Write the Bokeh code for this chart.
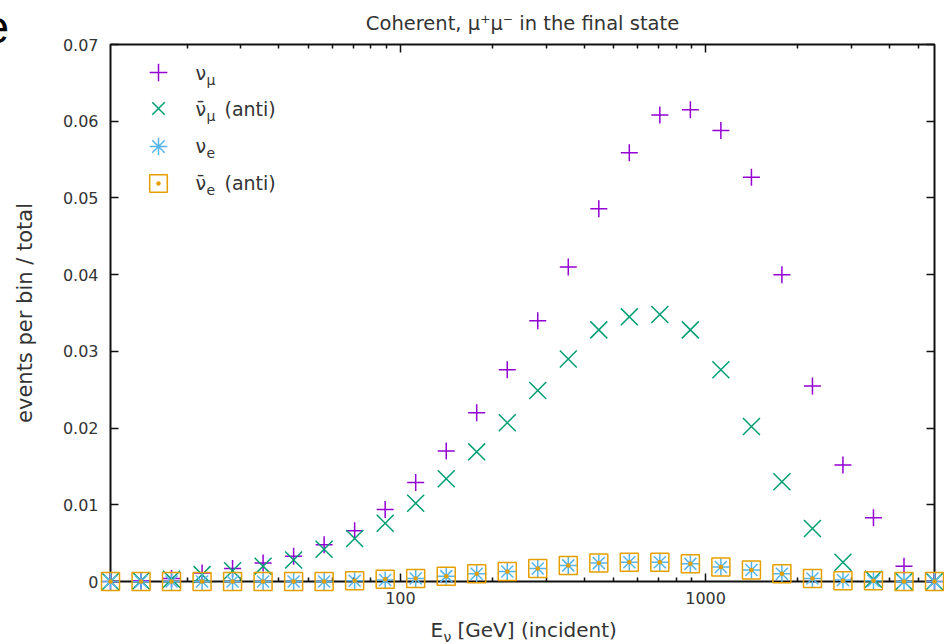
from bokeh.plotting import figure
from bokeh.models import (FixedTicker, LogAxis, LinearAxis, CustomJSTickFormatter,
                          Label, Legend, LegendItem, Range1d)
from bokeh.core.properties import value
from bokeh.embed import file_html
from bokeh.resources import INLINE

# ---------------- data ----------------
energy_gev = [11.22, 14.13, 17.78, 22.39, 28.18, 35.48, 44.67, 56.23, 70.79, 89.13,
              112.2, 141.3, 177.8, 223.9, 281.8, 354.8, 446.7, 562.3, 707.9, 891.3,
              1122.0, 1413.0, 1778.0, 2239.0, 2818.0, 3548.0, 4467.0, 5623.0]
nu_mu = [0.0000, 0.0001, 0.0004, 0.0011, 0.0017, 0.0024, 0.0033, 0.0048, 0.0066, 0.0094,
         0.0129, 0.0170, 0.0220, 0.0276, 0.0340, 0.0410, 0.0486, 0.0559, 0.0608, 0.0615,
         0.0588, 0.0527, 0.0400, 0.0255, 0.0152, 0.0083, 0.0020, 0.0000]
nu_mu_bar = [0.0000, 0.0001, 0.0003, 0.0009, 0.0014, 0.0020, 0.0028, 0.0042, 0.0056, 0.0076,
             0.0102, 0.0134, 0.0169, 0.0207, 0.0249, 0.0290, 0.0328, 0.0345, 0.0348, 0.0328,
             0.0276, 0.0202, 0.0130, 0.0069, 0.0025, 0.0003, 0.0000, 0.0000]
nu_e = [0.0000, 0.0000, 0.0000, 0.0000, 0.0000, 0.0000, 0.0000, 0.0000, 0.0001, 0.0002,
        0.0004, 0.0007, 0.0010, 0.0013, 0.0017, 0.0021, 0.0024, 0.0025, 0.0025, 0.0023,
        0.0019, 0.0015, 0.0010, 0.0004, 0.0002, 0.0001, 0.0000, 0.0000]
nu_e_bar = [0.0000, 0.0000, 0.0000, 0.0000, 0.0000, 0.0000, 0.0000, 0.0000, 0.0001, 0.0003,
            0.0004, 0.0007, 0.0010, 0.0013, 0.0017, 0.0021, 0.0024, 0.0025, 0.0025, 0.0023,
            0.0019, 0.0015, 0.0010, 0.0004, 0.0001, 0.0001, 0.0000, 0.0000]

y_ticks = [0.0, 0.01, 0.02, 0.03, 0.04, 0.05, 0.06, 0.07]
x_major_ticks = [100, 1000]
x_minor_ticks = [20, 30, 40, 50, 60, 70, 80, 90,
                 200, 300, 400, 500, 600, 700, 800, 900,
                 2000, 3000, 4000, 5000]

title_text = "Coherent, μ\u207aμ\u207b in the final state"
y_label_text = "events per bin / total"

# ---------------- layout constants ----------------
W, H = 944, 644
FL, FR, FT, FB = 110, 934, 44, 581   # frame edges on the canvas
FONT = "DejaVu Sans"
TXT = "#333333"
LIFT = 0.29   # baseline correction, as a fraction of the font size

p = figure(width=W, height=H, x_axis_type="log",
           x_range=Range1d(energy_gev[0], energy_gev[-1]),
           y_range=Range1d(y_ticks[0], y_ticks[-1]),
           output_backend="svg", toolbar_location=None,
           min_border_left=FL, min_border_right=W - FR,
           min_border_top=FT, min_border_bottom=H - FB)
p.grid.visible = False
p.background_fill_color = "white"
p.border_fill_color = "white"
p.outline_line_color = "#111111"
p.outline_line_width = 2

# title
p.title.text = title_text
p.title.align = "center"
p.title.text_font = FONT
p.title.text_font_size = "19.5px"
p.title.text_font_style = "normal"
p.title.text_color = TXT
p.title.standoff = 19

def style_axis(ax, labels=True):
    ax.axis_line_color = None
    ax.major_tick_in = 8
    ax.major_tick_out = 0
    ax.minor_tick_in = 4
    ax.minor_tick_out = 0
    ax.major_tick_line_color = "#111111"
    ax.minor_tick_line_color = "#111111"
    ax.major_tick_line_width = 1.5
    ax.minor_tick_line_width = 1.5
    ax.major_label_text_font = FONT
    ax.major_label_text_font_size = "16px"
    ax.major_label_text_color = TXT
    if not labels:
        ax.formatter = CustomJSTickFormatter(code="return ''")
        ax.major_label_standoff = 0

xticker = FixedTicker(ticks=x_major_ticks, minor_ticks=x_minor_ticks)
yticker = FixedTicker(ticks=y_ticks, minor_ticks=[])

xa = p.xaxis[0]
xa.ticker = xticker
xa.formatter = CustomJSTickFormatter(code="return tick.toFixed(0);")
style_axis(xa)
xa.major_label_standoff = 10

ya = p.yaxis[0]
ya.ticker = yticker
ya.formatter = CustomJSTickFormatter(code="return tick == 0 ? '0' : tick.toFixed(2);")
style_axis(ya)
ya.major_label_standoff = 12
ya.axis_label = y_label_text
ya.axis_label_text_font = FONT
ya.axis_label_text_font_size = "21px"
ya.axis_label_text_font_style = "normal"
ya.axis_label_text_color = TXT
ya.axis_label_standoff = 23

top = LogAxis(ticker=xticker)
style_axis(top, labels=False)
p.add_layout(top, "above")
right = LinearAxis(ticker=yticker)
style_axis(right, labels=False)
p.add_layout(right, "right")

# ---------------- data marks ----------------
r1 = p.scatter(energy_gev, nu_mu, marker="cross", size=17, line_color="#9400d3",
               line_width=1.5, level="overlay")
r2 = p.scatter(energy_gev, nu_mu_bar, marker="x", size=24, line_color="#009e73",
               line_width=1.5, level="overlay")
r3 = p.scatter(energy_gev, nu_e, marker="asterisk", size=17, line_color="#56b4e9",
               line_width=1.5, level="overlay")
r4 = p.scatter(energy_gev, nu_e_bar, marker="square_dot", size=18, line_color="#e69f00",
               fill_alpha=0, line_width=1.5, level="overlay")

# legend: one single-entry legend per row so the symbols can be large and evenly spaced
GS = 44                     # glyph box -> symbol size = 0.4 * GS
LEG_X = 158                 # symbol centre on the canvas
for r, yc in zip((r1, r2, r3, r4), (72, 108, 146, 183)):
    top_px = yc - GS / 2
    lg = Legend(items=[LegendItem(label=" ", renderers=[r])],
                location=(LEG_X - GS / 2 - FL, FB - top_px - GS),
                margin=0, padding=0, spacing=0,
                glyph_width=GS, glyph_height=GS, label_height=GS, label_width=1,
                label_standoff=0, border_line_color=None, background_fill_alpha=0)
    p.add_layout(lg)

def lab(text, x, y, size, color=TXT, font=FONT):
    """Text inside the frame, placed in screen pixels (y = baseline on the canvas)."""
    yb = y - LIFT * size
    return Label(x=x - FL, y=FB - yb, x_units="screen", y_units="screen", text=text,
                 text_font=font, text_font_size=f"{size}px", text_color=color,
                 text_align="left", text_baseline="alphabetic")

def outside_text(text, x, y, size, color=TXT, font=FONT):
    """Text outside the frame: anchored at the frame's lower-left corner, offset in pixels."""
    yb = y - LIFT * size
    p.text(x=[energy_gev[0]], y=[y_ticks[0]], text=[text],
           x_offset=x - FL, y_offset=yb - FB,
           text_font=value(font), text_font_size=value(f"{size}px"),
           text_color=color, text_align="left", text_baseline="alphabetic",
           level="overlay")

# legend texts (with subscripts)
for (main, sub, anti, base) in [("ν", "μ", False, 78), ("ν\u0304", "μ", True, 114),
                                ("ν", "e", False, 151), ("ν\u0304", "e", True, 188)]:
    p.add_layout(lab(main, 195, base, 19))
    p.add_layout(lab(sub, 206, base + 6, 14))
    if anti:
        p.add_layout(lab("(anti)", 224, base, 19))

# x-axis label with subscript
outside_text("E", 430, 635, 20)
outside_text("ν", 443, 641, 14)
outside_text("[GeV] (incident)", 457, 635, 20)

# cropped letter at the top-left corner of the source picture
outside_text("e", -17, 40, 46, color="#000000", font="Liberation Sans")

open("out.html", "w").write(file_html(p, INLINE))
